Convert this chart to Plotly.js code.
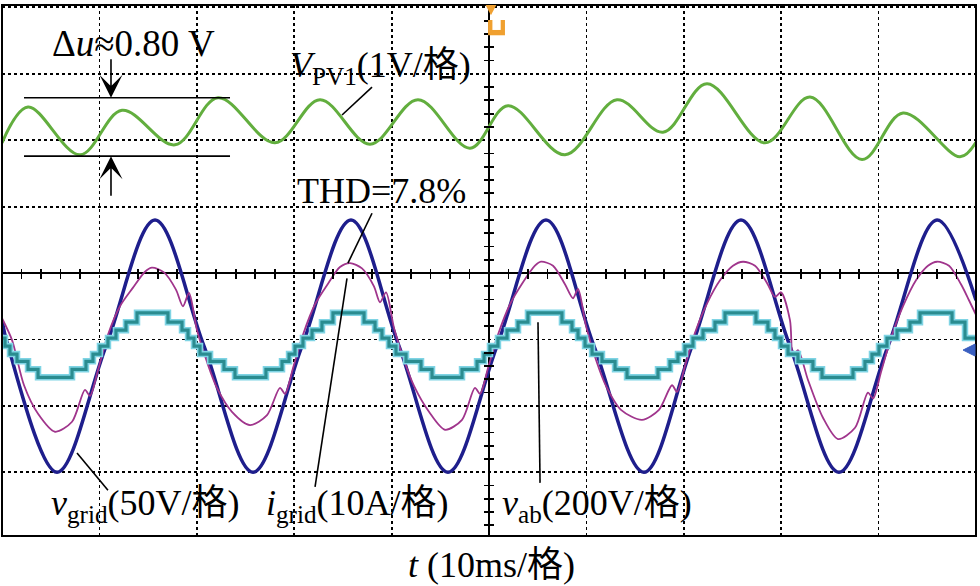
<!DOCTYPE html>
<html><head><meta charset="utf-8">
<script src="https://cdn.plot.ly/plotly-3.0.1.min.js"></script>
<style>html,body{margin:0;padding:0;background:#fff;} #chart{width:980px;height:586px;}</style>
</head><body><div id="chart"></div>
<script>
// time axis in ms (10 ms per division); vertical values in screen divisions
const pvTime = [-50.00,-47.33,-41.99,-37.68,-32.24,-27.82,-21.97,-17.35,-12.22,-7.29,-1.95,1.95,7.80,13.14,17.86,22.38,28.34,32.96,38.30,42.51,48.36,50.00];
const pvDiv  = [1.96,2.50,1.78,2.45,1.93,2.64,1.96,2.61,1.94,2.61,1.88,2.52,1.78,2.61,2.12,2.85,1.96,2.65,1.71,2.41,1.75,1.97];

const gridTime = [-50.00,-49.38,-44.35,-39.32,-34.29,-29.26,-24.23,-19.20,-14.17,-9.24,-4.21,0.82,5.85,10.78,15.91,20.84,25.87,30.90,35.93,40.97,46.00,50.00];
const gridDiv  = [-0.71,-1.10,-3.00,-1.10,0.80,-1.10,-3.00,-1.10,0.80,-1.10,-3.00,-1.10,0.80,-1.10,-3.00,-1.10,0.80,-1.10,-3.00,-1.10,0.80,-0.41];

const iTime = [-50.00,-48.97,-47.74,-46.30,-44.56,
 -42.81,-41.48,-40.97,-40.14,-39.12,-37.89,-36.55,-35.32,-34.60,
 -33.37,-32.14,-31.42,-30.80,-29.98,-28.95,-27.93,-26.39,-24.54,
 -22.79,-21.46,-20.94,-20.12,-19.10,-17.86,-16.53,-15.30,-14.27,
 -13.04,-11.81,-11.19,-10.57,-9.75,-8.73,-7.70,-6.16,-4.52,
 -2.77,-1.44,-0.92,-0.10,0.92,2.16,3.49,4.72,5.34,
 6.57,7.80,8.62,9.14,9.96,10.99,12.01,13.55,15.71,
 17.45,18.79,19.30,20.12,21.15,22.38,23.72,25.05,26.08,
 27.31,28.54,29.36,29.98,30.90,31.21,31.72,32.75,34.29,35.83,
 37.58,38.91,39.43,40.25,41.27,42.51,43.84,45.07,46.00,
 47.23,48.46,49.28,50.00];
const iDiv = [-0.68,-1.01,-1.69,-2.12,-2.39,
 -2.24,-1.76,-1.85,-1.46,-0.93,-0.50,-0.22,0.02,0.08,
 0.01,-0.25,-0.50,-0.30,-0.86,-1.34,-1.73,-2.09,-2.29,
 -2.14,-1.73,-1.82,-1.43,-0.93,-0.47,-0.16,0.09,0.15,
 0.07,-0.20,-0.44,-0.29,-0.83,-1.31,-1.70,-2.09,-2.36,
 -2.21,-1.73,-1.82,-1.43,-0.93,-0.47,-0.14,0.11,0.17,
 0.11,-0.17,-0.38,-0.24,-0.80,-1.31,-1.70,-2.06,-2.21,
 -2.06,-1.69,-1.79,-1.40,-0.90,-0.46,-0.11,0.11,0.17,
 0.11,-0.15,-0.36,-0.29,-0.71,-1.25,-1.16,-1.61,-2.18,-2.50,
 -2.33,-1.80,-1.89,-1.49,-0.98,-0.50,-0.11,0.11,0.17,
 0.11,-0.17,-0.41,-0.63];

const abTime = [-50.00,-49.69,-49.18,-48.46,-47.33,-46.30,
 -42.81,-41.38,-40.66,-39.94,-39.12,-38.30,-37.27,-36.14,
 -32.96,-31.52,-30.90,-30.29,-29.67,-28.64,-27.21,-26.08,
 -22.90,-21.25,-20.53,-19.92,-19.10,-18.17,-17.15,-16.02,
 -12.83,-11.70,-10.99,-10.27,-9.55,-8.52,-6.98,-5.85,
 -2.77,-1.23,-0.51,0.10,0.92,1.85,2.98,4.00,
 7.49,8.52,9.14,9.86,10.58,11.60,12.94,14.17,
 17.35,18.58,19.40,20.12,20.94,21.97,23.20,24.23,
 27.41,28.64,29.36,29.98,30.70,31.72,33.26,34.19,
 37.37,38.60,39.32,40.04,40.86,41.89,43.22,44.25,
 47.54,48.87,50.00];
const abDiv = [-0.98,-1.10,-1.22,-1.33,-1.45,-1.57,
 -1.45,-1.33,-1.22,-1.10,-0.98,-0.86,-0.74,-0.60,
 -0.74,-0.86,-0.98,-1.10,-1.22,-1.33,-1.45,-1.57,
 -1.45,-1.33,-1.22,-1.10,-0.98,-0.86,-0.74,-0.60,
 -0.74,-0.86,-0.98,-1.10,-1.22,-1.33,-1.45,-1.57,
 -1.45,-1.33,-1.22,-1.10,-0.98,-0.86,-0.74,-0.60,
 -0.74,-0.86,-0.98,-1.10,-1.22,-1.33,-1.45,-1.57,
 -1.45,-1.33,-1.22,-1.10,-0.98,-0.86,-0.74,-0.60,
 -0.74,-0.86,-0.98,-1.10,-1.22,-1.33,-1.45,-1.57,
 -1.45,-1.33,-1.22,-1.10,-0.98,-0.86,-0.74,-0.60,
 -0.74,-0.98,-0.98];

const labels = {
  du: 'Δ<i>u</i>≈0.80 V',
  pv: '<i>V</i><sub>PV1</sub>(1V/格)',
  thd: 'THD=7.8%',
  vgrid: '<i>v</i><sub>grid</sub>(50V/格)',
  igrid: '<i>i</i><sub>grid</sub>(10A/格)',
  vab: '<i>v</i><sub>ab</sub>(200V/格)',
  t: '<i>t</i> (10ms/格)'
};

const FONT = "'Liberation Serif', 'Times New Roman', 'Noto Sans CJK SC', serif";

const traces = [
  {x: pvTime, y: pvDiv, mode: 'lines', line: {color: '#62ae3e', width: 3, shape: 'spline', smoothing: 1}, hoverinfo: 'skip'},
  {x: gridTime, y: gridDiv, mode: 'lines', line: {color: '#1e1e8c', width: 3.5, shape: 'spline', smoothing: 1}, hoverinfo: 'skip'},
  {x: iTime, y: iDiv, mode: 'lines', line: {color: '#a0358c', width: 1.8, shape: 'spline', smoothing: 0.8}, hoverinfo: 'skip'},
  {x: abTime, y: abDiv, mode: 'lines', line: {color: '#7fd4e4', width: 6.5, shape: 'hv'}, hoverinfo: 'skip'},
  {x: abTime, y: abDiv, mode: 'lines', line: {color: '#2a8c90', width: 3.2, shape: 'hv'}, hoverinfo: 'skip'}
];

function seg(x0, y0, x1, y1) {
  return {type: 'line', xref: 'x', yref: 'y', x0: x0, y0: y0, x1: x1, y1: y1, line: {color: '#000', width: 1.6}};
}

const shapes = [
  {type: 'rect', xref: 'paper', yref: 'paper', x0: 0, y0: 0, x1: 1, y1: 1, line: {color: '#000', width: 2}},
  seg(-12.01, 2.80, -15.09, 2.38),
  seg(-12.01, 0.90, -14.48, 0.15),
  seg(-14.58, -0.08, -17.86, -3.22),
  seg(-42.30, -2.71, -39.12, -3.27),
  seg(5.03, -0.74, 5.24, -3.16),
  seg(-47.74, 2.64, -26.59, 2.64),
  seg(-47.74, 1.76, -26.59, 1.76),
  // scope markers
  {type: 'path', xref: 'x', yref: 'y', path: 'M -0.4,4.05 L 0.8,4.05 L 0.2,3.88 Z', fillcolor: '#f0a030', line: {width: 0}},
  {type: 'rect', xref: 'x', yref: 'y', x0: -0.10, y0: 3.58, x1: 1.64, y1: 3.81, fillcolor: '#f0a030', line: {width: 0}},
  {type: 'rect', xref: 'x', yref: 'y', x0: 0.35, y0: 3.66, x1: 1.2, y1: 3.81, fillcolor: '#ffffff', line: {width: 0}},
  {type: 'path', xref: 'x', yref: 'y', path: 'M 48.67,-1.16 L 49.9,-1.07 L 49.9,-1.25 Z', fillcolor: '#3a5fc0', line: {color: '#3a5fc0', width: 1}}
];

function txt(key, x, y, size) {
  return {xref: 'x', yref: 'y', x: x, y: y, text: labels[key], showarrow: false,
          font: {family: FONT, size: size || 36, color: '#000'}, xanchor: 'center', yanchor: 'middle'};
}
function arrow(xh, yh, xt, yt) {
  return {xref: 'x', yref: 'y', axref: 'x', ayref: 'y', x: xh, y: yh, ax: xt, ay: yt, text: '',
          showarrow: true, arrowhead: 3, arrowsize: 2.4, arrowwidth: 1.6, arrowcolor: '#000', standoff: 0};
}

const annotations = [
  txt('du', -36.45, 3.46, 37),
  txt('pv', -11.09, 3.10),
  txt('thd', -10.99, 1.23),
  txt('vgrid', -35.22, -3.50),
  txt('igrid', -13.55, -3.50),
  txt('vab', 11.09, -3.50),
  {xref: 'paper', yref: 'paper', x: 0.503, y: -0.055, text: labels.t, showarrow: false,
   font: {family: FONT, size: 36, color: '#000'}, xanchor: 'center', yanchor: 'middle'},
  arrow(-38.81, 2.64, -38.81, 3.24),
  arrow(-38.81, 1.76, -38.81, 1.14)
];

const layout = {
  width: 980, height: 586, autosize: false,
  margin: {l: 2, r: 4, t: 5, b: 50, pad: 0},
  paper_bgcolor: '#fff', plot_bgcolor: '#fff',
  showlegend: false,
  font: {family: FONT, size: 36, color: '#000'},
  xaxis: {range: [-50, 50], anchor: 'free', position: 0.5047, fixedrange: true,
          tick0: 0, dtick: 10, ticks: '', showticklabels: false,
          showgrid: true, gridcolor: '#000', gridwidth: 1.8, griddash: 'dot',
          zeroline: true, zerolinecolor: '#000', zerolinewidth: 2, showline: false,
          minor: {tick0: 0, dtick: 2, ticks: 'outside', ticklen: 10, tickwidth: 1.8, tickcolor: '#000', showgrid: false}},
  yaxis: {range: [-3.96, 4.036], anchor: 'free', position: 0.505, fixedrange: true,
          tick0: 0, dtick: 1, ticks: '', showticklabels: false,
          showgrid: true, gridcolor: '#000', gridwidth: 1.8, griddash: 'dot',
          zeroline: true, zerolinecolor: '#000', zerolinewidth: 2, showline: false,
          minor: {tick0: 0, dtick: 0.2, ticks: 'outside', ticklen: 10, tickwidth: 1.8, tickcolor: '#000', showgrid: false}},
  shapes: shapes,
  annotations: annotations
};

Plotly.newPlot('chart', traces, layout, {staticPlot: true, displayModeBar: false});
</script>
</body></html>
